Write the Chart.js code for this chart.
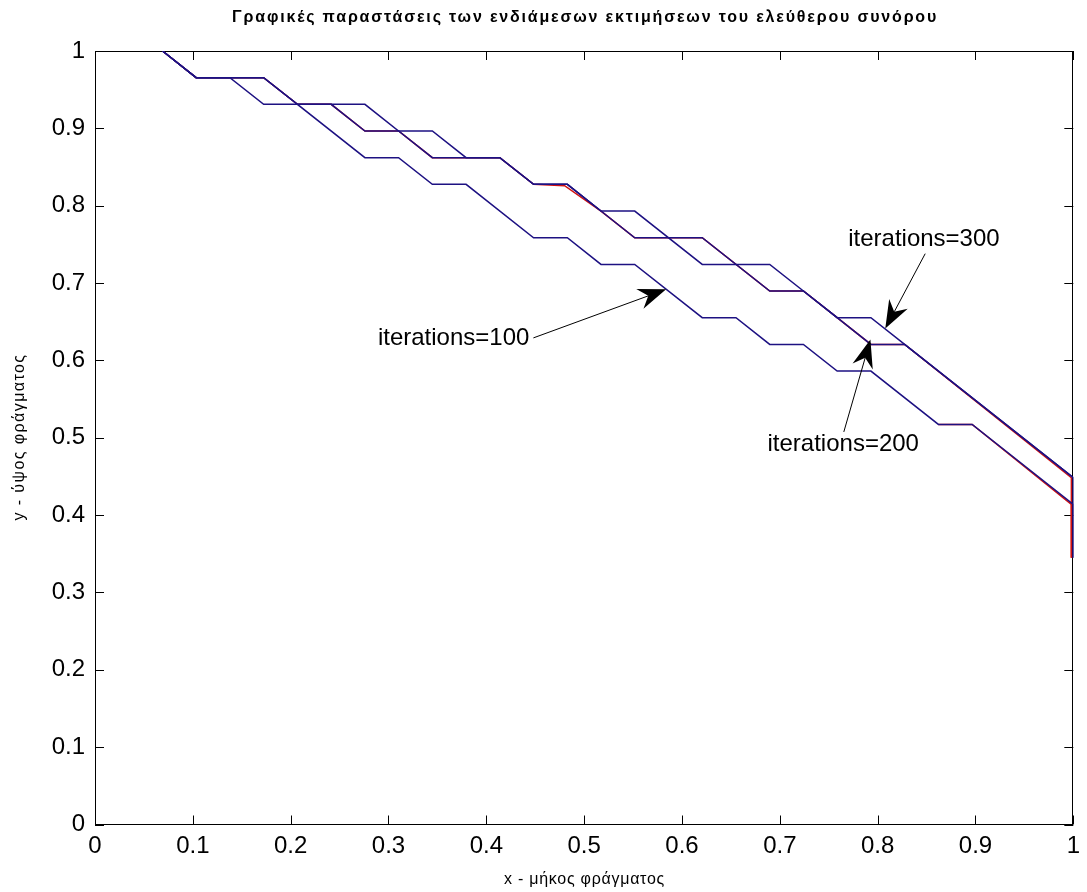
<!DOCTYPE html>
<html>
<head>
<meta charset="utf-8">
<script src="https://cdn.jsdelivr.net/npm/chart.js@4/dist/chart.umd.min.js"></script>
<style>
  html, body { margin: 0; padding: 0; background: #fff; }
  #wrap { width: 1087px; height: 892px; }
</style>
</head>
<body>
<div id="wrap"><canvas id="chart" width="1087" height="892"></canvas></div>
<script>
const TITLE = "Γραφικές παραστάσεις των ενδιάμεσων εκτιμήσεων του ελεύθερου συνόρου";
const X_TITLE = "x - μήκος φράγματος";
const Y_TITLE = "y - ύψος φράγματος";

const xTicks = [0, 0.1, 0.2, 0.3, 0.4, 0.5, 0.6, 0.7, 0.8, 0.9, 1];
const xTickLabels = ["0", "0.1", "0.2", "0.3", "0.4", "0.5", "0.6", "0.7", "0.8", "0.9", "1"];
const yTicks = [0, 0.1, 0.2, 0.3, 0.4, 0.5, 0.6, 0.7, 0.8, 0.9, 1];
const yTickLabels = ["0", "0.1", "0.2", "0.3", "0.4", "0.5", "0.6", "0.7", "0.8", "0.9", "1"];

// iterations=100 (lowest staircase)
const iter100X = [0.0690, 0.1034, 0.1379, 0.1724, 0.2069, 0.2759, 0.3103, 0.3448, 0.3793, 0.4483, 0.4828,
  0.5172, 0.5517, 0.6207, 0.6552, 0.6897, 0.7241, 0.7586, 0.7931, 0.8621, 0.8966, 1, 1];
const iter100Y = [1, 0.9655, 0.9655, 0.9310, 0.9310, 0.8621, 0.8621, 0.8276, 0.8276, 0.7586, 0.7586,
  0.7241, 0.7241, 0.6552, 0.6552, 0.6207, 0.6207, 0.5862, 0.5862, 0.5172, 0.5172, 0.4138, 0.3448];

// iterations=200
const iter200X = [0.0690, 0.1034, 0.1724, 0.2069, 0.2414, 0.2759, 0.3103, 0.3448, 0.4138, 0.4483, 0.4828,
  0.5172, 0.5517, 0.6207, 0.6897, 0.7241, 0.7586, 0.7931, 0.8276, 1, 1];
const iter200Y = [1, 0.9655, 0.9655, 0.9310, 0.9310, 0.8966, 0.8966, 0.8621, 0.8621, 0.8276, 0.8276,
  0.7931, 0.7586, 0.7586, 0.6897, 0.6897, 0.6552, 0.6207, 0.6207, 0.4483, 0.3448];

// iterations=300
const iter300X = [0.0690, 0.1034, 0.1724, 0.2069, 0.2759, 0.3103, 0.3448, 0.3793, 0.4138, 0.4483, 0.4828,
  0.5172, 0.5517, 0.6207, 0.6897, 0.7241, 0.7586, 0.7931, 0.8276, 1, 1];
const iter300Y = [1, 0.9655, 0.9655, 0.9310, 0.9310, 0.8966, 0.8966, 0.8621, 0.8621, 0.8276, 0.8276,
  0.7931, 0.7931, 0.7241, 0.7241, 0.6897, 0.6552, 0.6552, 0.6207, 0.4483, 0.3448];

// red traces lying mostly under the blue ones
const redUpperX = [0.0690, 0.1034, 0.1724, 0.2069, 0.2414, 0.2759, 0.3103, 0.3448, 0.4138, 0.4483, 0.4800,
  0.5172, 0.5517, 0.6207, 0.6897, 0.7241, 0.7586, 0.7931, 0.8276, 0.998, 0.998];
const redUpperY = [1, 0.9655, 0.9655, 0.9310, 0.9310, 0.8966, 0.8966, 0.8621, 0.8621, 0.8276, 0.8259,
  0.7931, 0.7586, 0.7586, 0.6897, 0.6897, 0.6552, 0.6207, 0.6207, 0.4483, 0.3448];
const redLowerX = [0.8621, 0.8966, 0.998, 0.998];
const redLowerY = [0.5172, 0.5172, 0.4138, 0.3448];

const labelTexts = ["iterations=100", "iterations=300", "iterations=200"];
const labelX = [0.4440, 0.7699, 0.6874];
const labelY = [0.6279, 0.7565, 0.4916];
const labelAlign = ["right", "left", "left"];
const arrowFromX = [0.4481, 0.8486, 0.7654];
const arrowFromY = [0.6291, 0.7380, 0.5075];
const arrowToX = [0.5838, 0.8078, 0.7926];
const arrowToY = [0.6919, 0.6411, 0.6269];

const BLUE = "#1d1182";
const RED = "#d01010";
const FONT = "'Liberation Sans', Arial, Helvetica, sans-serif";
const NARROW = "'Liberation Sans Narrow', 'Liberation Sans', Arial, sans-serif";

function toPoints(xs, ys) {
  return xs.map((x, i) => ({ x, y: ys[i] }));
}

function line(label, xs, ys, color) {
  return {
    label,
    data: toPoints(xs, ys),
    showLine: true,
    borderColor: color,
    borderWidth: 1.5,
    pointRadius: 0,
    tension: 0,
    fill: false,
  };
}

// draw text spread to a given overall width (the source fonts are condensed and letter-spaced)
function spreadText(ctx, text, x, y, width) {
  ctx.letterSpacing = "0px";
  const w = ctx.measureText(text).width;
  const gap = Math.max(0, (width - w) / text.length);
  ctx.letterSpacing = gap.toFixed(2) + "px";
  ctx.fillText(text, x + gap / 2, y);
  ctx.letterSpacing = "0px";
}

const framePlugin = {
  id: "frame",
  beforeDatasetsDraw(chart) {
    const { ctx, chartArea: a, scales } = chart;
    ctx.save();
    ctx.strokeStyle = "#000";
    ctx.lineWidth = 1;
    ctx.strokeRect(Math.round(a.left) + 0.5, Math.round(a.top) + 0.5,
      Math.round(a.right - a.left) - 1, Math.round(a.bottom - a.top) - 1);
    const TL = 9;
    ctx.beginPath();
    xTicks.forEach((v) => {
      const px = Math.round(scales.x.getPixelForValue(v)) + 0.5;
      ctx.moveTo(px, a.bottom); ctx.lineTo(px, a.bottom - TL);
      ctx.moveTo(px, a.top); ctx.lineTo(px, a.top + TL);
    });
    yTicks.forEach((v) => {
      const py = Math.round(scales.y.getPixelForValue(v)) + 0.5;
      ctx.moveTo(a.left, py); ctx.lineTo(a.left + TL, py);
      ctx.moveTo(a.right, py); ctx.lineTo(a.right - TL, py);
    });
    ctx.stroke();
    ctx.restore();
  },
  afterDraw(chart) {
    const { ctx, chartArea: a, scales } = chart;
    const cx = (a.left + a.right) / 2;
    ctx.save();
    ctx.fillStyle = "#000";
    ctx.textAlign = "center";
    ctx.textBaseline = "middle";

    // title and axis titles
    ctx.font = "bold 16px " + NARROW;
    spreadText(ctx, TITLE, cx, 18, 706);
    ctx.font = "16px " + NARROW;
    spreadText(ctx, X_TITLE, cx, 880, 161);
    ctx.save();
    ctx.translate(20, (a.top + a.bottom) / 2);
    ctx.rotate(-Math.PI / 2);
    spreadText(ctx, Y_TITLE, 0, 0, 167);
    ctx.restore();

    // annotations
    ctx.font = "24px " + FONT;
    labelTexts.forEach((t, i) => {
      ctx.textAlign = labelAlign[i];
      ctx.fillText(t, scales.x.getPixelForValue(labelX[i]), scales.y.getPixelForValue(labelY[i]));
    });
    ctx.strokeStyle = "#000";
    ctx.lineWidth = 1;
    arrowFromX.forEach((_, i) => {
      const x0 = scales.x.getPixelForValue(arrowFromX[i]);
      const y0 = scales.y.getPixelForValue(arrowFromY[i]);
      const x1 = scales.x.getPixelForValue(arrowToX[i]);
      const y1 = scales.y.getPixelForValue(arrowToY[i]);
      const ang = Math.atan2(y1 - y0, x1 - x0);
      const L = 28, W = 10.5, N = 19;
      ctx.beginPath();
      ctx.moveTo(x0, y0);
      ctx.lineTo(x1 - Math.cos(ang) * N, y1 - Math.sin(ang) * N);
      ctx.stroke();
      ctx.save();
      ctx.translate(x1, y1);
      ctx.rotate(ang);
      ctx.beginPath();
      ctx.moveTo(0, 0);
      ctx.lineTo(-L, -W);
      ctx.lineTo(-N, 0);
      ctx.lineTo(-L, W);
      ctx.closePath();
      ctx.fillStyle = "#000";
      ctx.fill();
      ctx.restore();
    });
    ctx.restore();
  },
};

new Chart(document.getElementById("chart"), {
  type: "scatter",
  data: {
    // earlier datasets are drawn on top, so the red traces go last
    datasets: [
      line("iterations=100", iter100X, iter100Y, BLUE),
      line("iterations=200", iter200X, iter200Y, BLUE),
      line("iterations=300", iter300X, iter300Y, BLUE),
      line("red upper", redUpperX, redUpperY, RED),
      line("red lower", redLowerX, redLowerY, RED),
    ],
  },
  options: {
    responsive: false,
    animation: false,
    devicePixelRatio: 1,
    layout: { padding: { top: 51, right: 9.5, left: 0, bottom: 0 } },
    plugins: {
      legend: { display: false },
      tooltip: { enabled: false },
      title: { display: false },
    },
    scales: {
      x: {
        type: "linear",
        min: 0,
        max: 1,
        afterFit: (scale) => { scale.height = 67.5; },
        afterBuildTicks: (scale) => { scale.ticks = xTicks.map((v) => ({ value: v })); },
        ticks: {
          callback: (v) => xTickLabels[xTicks.indexOf(v)] ?? "",
          color: "#000",
          font: { family: FONT, size: 24 },
          padding: 7,
          maxRotation: 0,
        },
        grid: { display: false, drawTicks: false },
        border: { display: false },
      },
      y: {
        type: "linear",
        min: 0,
        max: 1,
        afterFit: (scale) => { scale.width = 95; },
        afterBuildTicks: (scale) => { scale.ticks = yTicks.map((v) => ({ value: v })); },
        ticks: {
          callback: (v) => yTickLabels[yTicks.indexOf(v)] ?? "",
          color: "#000",
          font: { family: FONT, size: 24 },
          padding: 10,
        },
        grid: { display: false, drawTicks: false },
        border: { display: false },
      },
    },
  },
  plugins: [framePlugin],
});
</script>
</body>
</html>
